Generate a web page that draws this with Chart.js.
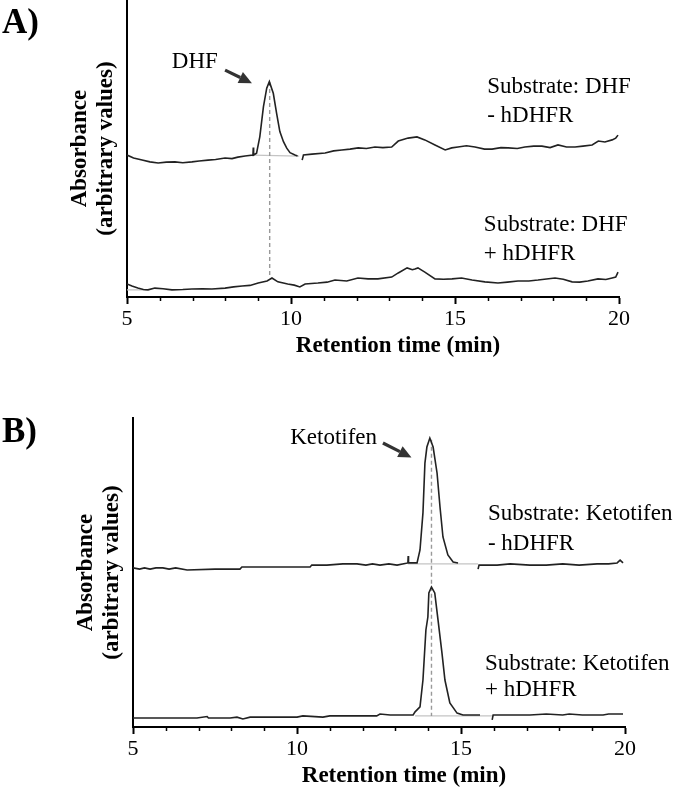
<!DOCTYPE html>
<html>
<head>
<meta charset="utf-8">
<script src="https://cdn.jsdelivr.net/npm/chart.js@4.4.0/dist/chart.umd.min.js"></script>
<style>
  body { margin: 0; background: #fff; width: 680px; height: 789px; overflow: hidden; position: relative; }
  canvas { position: absolute; left: 0; }
  #chartA { top: 0; }
  #chartB { top: 400px; }
</style>
</head>
<body>
<canvas id="chartA" width="680" height="370"></canvas>
<canvas id="chartB" width="680" height="389"></canvas>
<script>
// ---- Panel A: substrate DHF (retention time in min, absorbance in arbitrary units) ----
const timeDhfMinus = [5.0, 5.2, 5.46, 5.7, 5.95, 6.2, 6.46, 6.7, 6.98, 7.2, 7.47, 7.7, 7.99, 8.2, 8.38, 8.6, 8.84, 8.85, 8.86,
  8.95, 9.05, 9.16, 9.26, 9.34, 9.46, 9.56, 9.66, 9.77, 9.87, 9.97, 10.12, 10.2, 10.27,
  10.34, 10.38, 10.64, 11.04, 11.3, 11.55, 11.8, 12.05, 12.3, 12.56, 12.8, 13.07, 13.27, 13.57, 13.84, 14.08, 14.39, 14.7,
  14.9, 15.09, 15.35, 15.61, 15.9, 16.13, 16.4, 16.62, 16.9, 17.13, 17.4, 17.65, 17.9, 18.14, 18.4, 18.66, 18.9, 19.18,
  19.37, 19.57, 19.79, 19.9, 19.97];
const absDhfMinus = [47.8, 46.8, 46.1, 45.5, 45.1, 45.4, 45.5, 45.2, 45.5, 45.8, 46.1, 46.3, 46.8, 46.6, 47.1, 47.5, 47.8, 50.3, 47.8,
  48.4, 54.0, 64.1, 70.3, 72.5, 68.6, 61.9, 55.7, 52.3, 50.1, 48.6, 47.8, 47.5, null,
  46.1, 47.8, 48.1, 48.5, 49.2, 49.5, 49.8, 50.2, 50.0, 50.5, 50.3, 50.5, 52.5, 53.5, 53.9, 52.9, 51.2, 49.5,
  50.2, 50.5, 50.9, 50.5, 49.8, 49.8, 50.3, 50.2, 50.0, 50.5, 50.8, 50.8, 50.3, 51.2, 50.5, 50.5, 50.8, 51.2,
  52.5, 52.2, 52.9, 53.5, 54.5];

const timeDhfPlus = [5.0, 5.15, 5.33, 5.5, 5.64, 5.85, 6.1, 6.37, 6.7, 6.98, 7.3, 7.59, 7.99, 8.25, 8.51, 8.75, 9.0, 9.27, 9.42,
  9.6, 9.9, 10.1, 10.27, 10.43, 10.82, 11.1, 11.34, 11.7, 12.04, 12.35, 12.65, 13.07, 13.27, 13.54, 13.7, 13.78, 13.87,
  14.08, 14.39, 14.65, 14.91, 15.2, 15.52, 15.91, 16.31, 16.6, 16.92, 17.25, 17.53, 18.05, 18.3, 18.57, 18.8, 19.05,
  19.36, 19.6, 19.79, 19.9, 19.97];
const absDhfPlus = [4.4, 3.7, 3.0, 2.5, 2.4, 3.0, 2.8, 2.4, 2.5, 2.7, 2.8, 2.7, 3.0, 3.4, 3.7, 3.9, 4.7, 5.4, 6.4,
  5.1, 4.4, 4.0, 3.4, 4.4, 4.7, 5.0, 5.7, 5.4, 6.4, 6.1, 6.1, 6.7, 8.1, 9.8, 9.2, 9.4, 9.8,
  8.4, 6.1, 6.0, 6.1, 6.4, 5.7, 5.1, 4.7, 5.0, 5.4, 5.4, 5.7, 6.4, 6.0, 5.1, 5.0, 5.4,
  6.1, 5.9, 6.4, 6.7, 8.4];

// integration baselines (grey) and peak marker for DHF
const baseDhfMinusTime = [8.84, 10.25];
const baseDhfMinusAbs = [47.8, 47.4];
const baseDhfPlusTime = [5.0, 5.6];
const baseDhfPlusAbs = [2.4, 2.4];
const markDhfTime = [9.35, 9.35];
const markDhfAbs = [72.4, 6.4];

// ---- Panel B: substrate ketotifen ----
const timeKetoMinus = [5.0, 5.2, 5.35, 5.52, 5.7, 5.91, 6.1, 6.3, 6.65, 7.5, 8.26, 8.32, 9.4, 10.4, 10.45, 10.91, 11.4,
  11.83, 12.1, 12.3, 12.53, 12.8, 13.05, 13.38, 13.39, 13.4, 13.66, 13.75, 13.84, 13.9, 13.96, 14.05, 14.15, 14.27,
  14.36, 14.45, 14.6, 14.76, 14.91, 15.2, 15.52, 15.55, 16.1, 16.5, 17.1, 17.6, 18.1, 18.6, 19.15, 19.5, 19.76, 19.85,
  19.94];
const absKetoMinus = [51.5, 51.1, 51.5, 51.1, 51.5, 51.5, 51.1, 51.5, 50.8, 51.1, 51.1, 51.8, 51.8, 51.8, 52.4, 52.4, 52.8,
  52.8, 52.4, 52.8, 52.4, 52.8, 52.4, 53.1, 55.3, 53.1, 53.1, 57.3, 69.3, 85.4, 90.6, 93.5, 90.6, 82.2,
  71.2, 61.5, 55.7, 53.4, 53.1, null, 51.1, 52.4, 52.4, 52.8, 52.4, 52.4, 52.8, 52.4, 52.8, 52.8, 53.1, 54.0,
  53.1];

const timeKetoPlus = [5.0, 6.0, 6.95, 7.26, 7.3, 7.96, 8.17, 8.35, 8.57, 9.3, 10.0, 10.18, 10.79, 11.0, 11.7, 12.43, 12.53,
  12.84, 13.2, 13.54, 13.6, 13.75, 13.84, 13.93, 13.99, 14.02, 14.1, 14.2, 14.3, 14.42, 14.51, 14.66, 14.88, 15.06,
  15.3, 15.58, 15.8, 15.95, 15.98, 16.5, 17.1, 17.6, 18.1, 18.3, 18.7, 19.33, 19.5, 19.7, 19.94];
const absKetoPlus = [2.9, 2.9, 2.9, 3.4, 2.9, 2.9, 3.2, 2.6, 3.2, 3.2, 3.2, 3.6, 3.2, 3.6, 3.6, 3.6, 4.2,
  3.9, 3.9, 3.9, 4.9, 6.5, 15.2, 31.4, 35.6, 43.4, 45.3, 43.4, 34.6, 23.9, 15.2, 7.8, 4.5, 3.9,
  3.9, 3.9, null, 2.3, 3.9, 3.9, 3.9, 4.2, 3.9, 4.2, 3.9, 3.9, 4.2, 4.2, 4.2];

const baseKetoMinusTime = [13.38, 15.52];
const baseKetoMinusAbs = [52.8, 52.8];
const baseKetoPlusTime = [13.6, 16.0];
const baseKetoPlusAbs = [3.6, 3.6];
const markKetoTime = [14.1, 14.1];
const markKetoAbs = [93.0, 3.6];

const xMajorTicks = [5, 10, 15, 20];
const yTitle = ['Absorbance', '(arbitrary values)'];
const xTitle = 'Retention time (min)';

const SERIF = '"Liberation Serif", "Times New Roman", serif';

function pts(t, a) {
  return t.map((v, i) => ({ x: v, y: a[i] }));
}

// text, arrows and minor ticks for each panel
const notesByCanvas = {
  chartA: {
    letter: 'A)', letterY: 33,
    peakName: 'DHF', peakAt: [7.77, 79.0], arrow: [7.99, 76.4, 8.81, 72.0],
    labels: [
      [15.98, 70.7, 'Substrate: DHF'], [15.98, 60.9, '- hDHFR'],
      [15.88, 24.2, 'Substrate: DHF'], [15.88, 14.6, '+ hDHFR']
    ]
  },
  chartB: {
    letter: 'B)', letterY: 42,
    peakName: 'Ketotifen', peakAt: [12.44, 93.7], arrow: [12.62, 91.9, 13.49, 87.2],
    labels: [
      [15.82, 68.9, 'Substrate: Ketotifen'], [15.82, 59.1, '- hDHFR'],
      [15.73, 20.4, 'Substrate: Ketotifen'], [15.73, 12.0, '+ hDHFR']
    ]
  }
};

function drawArrow(ctx, x1, y1, x2, y2) {
  const ang = Math.atan2(y2 - y1, x2 - x1);
  const head = 13, wing = 6;
  const bx = x2 - head * Math.cos(ang), by = y2 - head * Math.sin(ang);
  ctx.lineWidth = 3.2;
  ctx.beginPath();
  ctx.moveTo(x1, y1);
  ctx.lineTo(bx, by);
  ctx.stroke();
  ctx.beginPath();
  ctx.moveTo(x2, y2);
  ctx.lineTo(bx + wing * Math.sin(ang), by - wing * Math.cos(ang));
  ctx.lineTo(bx - wing * Math.sin(ang), by + wing * Math.cos(ang));
  ctx.closePath();
  ctx.fill();
}

const notes = {
  id: 'notes',
  afterDraw(chart) {
    const n = notesByCanvas[chart.canvas.id];
    const { ctx, chartArea } = chart;
    const x = chart.scales.x, y = chart.scales.y;
    ctx.save();

    // minor ticks every minute
    ctx.strokeStyle = '#000';
    ctx.lineWidth = 1.5;
    for (let t = 6; t < 20; t++) {
      if (t % 5 === 0) continue;
      const px = Math.round(x.getPixelForValue(t)) + 0.5;
      ctx.beginPath();
      ctx.moveTo(px, chartArea.bottom);
      ctx.lineTo(px, chartArea.bottom + 4);
      ctx.stroke();
    }

    ctx.fillStyle = '#000';
    ctx.textBaseline = 'alphabetic';
    ctx.textAlign = 'left';
    ctx.font = 'bold 35px ' + SERIF;
    ctx.fillText(n.letter, 2, n.letterY);

    ctx.textBaseline = 'middle';
    ctx.textAlign = 'center';
    ctx.font = 'bold 23px ' + SERIF;
    ctx.fillText(xTitle, (chartArea.left + chartArea.right) / 2 + 25, chartArea.bottom + 49);

    ctx.font = '23px ' + SERIF;
    ctx.textAlign = 'left';
    n.labels.forEach(l => {
      ctx.fillText(l[2], x.getPixelForValue(l[0]), y.getPixelForValue(l[1]));
    });
    ctx.textAlign = 'right';
    ctx.fillText(n.peakName, x.getPixelForValue(n.peakAt[0]), y.getPixelForValue(n.peakAt[1]));

    ctx.strokeStyle = '#333';
    ctx.fillStyle = '#333';
    const a = n.arrow;
    drawArrow(ctx, x.getPixelForValue(a[0]), y.getPixelForValue(a[1]),
      x.getPixelForValue(a[2]), y.getPixelForValue(a[3]));
    ctx.restore();
  }
};

function buildChart(id, p) {
  return new Chart(document.getElementById(id), {
    type: 'line',
    data: {
      datasets: [
        { data: pts(p.tMinus, p.aMinus), borderColor: '#222', borderWidth: 1.6, order: 1 },
        { data: pts(p.tPlus, p.aPlus), borderColor: '#222', borderWidth: 1.6, order: 1 },
        { data: pts(p.markT, p.markA), borderColor: '#999', borderWidth: 1.4, borderDash: [4, 3], order: 2 },
        { data: pts(p.baseMinusT, p.baseMinusA), borderColor: '#c4c4c4', borderWidth: 1.3, order: 3 },
        { data: pts(p.basePlusT, p.basePlusA), borderColor: '#c4c4c4', borderWidth: 1.3, order: 3 }
      ]
    },
    options: {
      responsive: false,
      animation: false,
      spanGaps: false,
      elements: { point: { radius: 0 }, line: { tension: 0 } },
      layout: { padding: { top: p.padTop, right: p.padRight, bottom: 0, left: 0 } },
      plugins: { legend: { display: false }, tooltip: { enabled: false } },
      scales: {
        x: {
          type: 'linear', min: 5, max: 20,
          afterFit: s => { s.height = p.xHeight; },
          border: { display: true, color: '#000', width: 2 },
          grid: {
            display: true, drawOnChartArea: false, drawTicks: true, tickLength: 7, tickWidth: 2,
            tickColor: c => (c.tick && xMajorTicks.includes(c.tick.value)) ? '#000' : 'rgba(0,0,0,0)'
          },
          ticks: {
            stepSize: 1, autoSkip: false, maxRotation: 0, padding: 2, color: '#000',
            font: { family: SERIF, size: 22 },
            callback: v => xMajorTicks.includes(v) ? String(v) : ''
          }
        },
        y: {
          min: 0, max: 100,
          afterFit: s => { s.width = p.axisX; },
          border: { display: true, color: '#000', width: 2 },
          grid: { display: false },
          ticks: { display: false },
          title: {
            display: true, text: yTitle, color: '#000',
            font: { family: SERIF, size: 23, weight: 'bold', lineHeight: 1.13 },
            padding: { top: p.axisX - 47 - 13, bottom: 0 }
          }
        }
      }
    },
    plugins: [notes]
  });
}

buildChart('chartA', {
  tMinus: timeDhfMinus, aMinus: absDhfMinus, tPlus: timeDhfPlus, aPlus: absDhfPlus,
  markT: markDhfTime, markA: markDhfAbs,
  baseMinusT: baseDhfMinusTime, baseMinusA: baseDhfMinusAbs, basePlusT: baseDhfPlusTime, basePlusA: baseDhfPlusAbs,
  axisX: 127, padTop: 0, padRight: 61, xHeight: 73
});

buildChart('chartB', {
  tMinus: timeKetoMinus, aMinus: absKetoMinus, tPlus: timeKetoPlus, aPlus: absKetoPlus,
  markT: markKetoTime, markA: markKetoAbs,
  baseMinusT: baseKetoMinusTime, baseMinusA: baseKetoMinusAbs, basePlusT: baseKetoPlusTime, basePlusA: baseKetoPlusAbs,
  axisX: 133, padTop: 18, padRight: 55, xHeight: 62
});
</script>
</body>
</html>
